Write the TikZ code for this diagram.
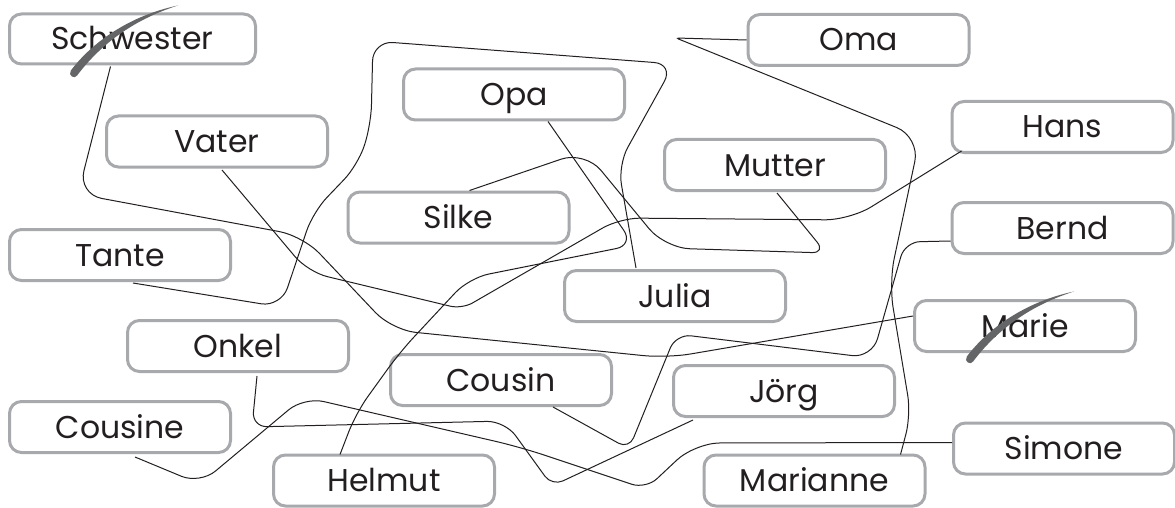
\documentclass[tikz,border=0pt]{standalone}
\usepackage{fontspec}
\setmainfont{Poppins}
\usetikzlibrary{calc}
\definecolor{boxgray}{HTML}{A7A9AC}
\definecolor{ink}{HTML}{231F20}
\definecolor{strikegray}{HTML}{646567}
\newcommand{\strikestroke}[2]{%
  \fill[strikegray, shift={(#1,#2)}] (70.8,70.6) .. controls (91.8,42.6) and (129.4,15.6) .. (178,5.5)
     .. controls (130.6,20.4) and (98.2,47.4) .. (77.2,75.4)
     .. controls (75,79.5) and (67.5,76) .. (70.8,70.6) -- cycle;}
\begin{document}
\begin{tikzpicture}[x=1pt,y=-1pt,
  namebox/.style={draw=boxgray, line width=3pt, rounded corners=12pt, fill=white,
    minimum width=221pt, minimum height=51pt, inner sep=0pt, text=ink,
    text height=22pt, text depth=0pt, font=\fontsize{31.5}{36}\selectfont},
  conn/.style={draw=ink, line width=1pt}]
\useasboundingbox (0,0) rectangle (1175,508);
\fill[white] (0,0) rectangle (1175,508);

\node[namebox, minimum width=246pt, minimum height=50pt] (schw) at (132.5,39) {Schwester};
\node[namebox] (oma) at (858.5,40) {Oma};
\node[namebox] (opa) at (514,94.5) {Opa};
\node[namebox] (vater) at (217,141.5) {Vater};
\node[namebox] (hans) at (1062.5,127) {Hans};
\node[namebox] (mutter) at (775,165) {Mutter};
\node[namebox] (silke) at (458.5,217.5) {Silke};
\node[namebox] (tante) at (120,255) {Tante};
\node[namebox] (bernd) at (1062.5,228) {Bernd};
\node[namebox] (julia) at (675,296) {Julia};
\node[namebox] (marie) at (1025,326) {Marie};
\node[namebox] (onkel) at (238,346) {Onkel};
\node[namebox] (cousin) at (501,380) {Cousin};
\node[namebox] (jorg) at (784,391) {Jörg};
\node[namebox] (cousine) at (120,427) {Cousine};
\node[namebox] (simone) at (1064,448.5) {Simone};
\node[namebox] (helmut) at (384,480.5) {Helmut};
\node[namebox] (marianne) at (814.5,480.5) {Marianne};

% Schwester -- Marie
\draw[conn, rounded corners=24pt] ($(schw.south)+(-22,1)$) -- (78,194) -- (303,236)
  -- (392,330) -- (667,358) -- ($(marie.west)+(0,-10)$);
% Vater -- Hans
\draw[conn] ($(vater.south)+(5,1.5)$) [rounded corners=20pt] -- (308,272)
  [rounded corners=12pt] -- (462,309) [rounded corners=20pt] -- (620,218)
  [rounded corners=25pt] -- (850,220) -- ($(hans.south west)+(11,-3)$);
% Oma -- Marianne
\draw[conn] (oma.west) [rounded corners=3pt] -- (676,38) [rounded corners=25pt] -- (920,137)
  -- (889,283) [rounded corners=20pt] -- (911,415) -- ($(marianne.north)+(86,1)$);
% Bernd -- Cousin
\draw[conn] ($(bernd.west)+(0,13)$) [rounded corners=15pt] -- (905,242)
  [rounded corners=20pt] -- (872,358) [rounded corners=15pt] -- (676,334)
  [rounded corners=12pt] -- (629,449) -- ($(cousin.south)+(52,0)$);
% Simone -- Cousine
\draw[conn] ($(simone.west)+(0,-6)$) [rounded corners=25pt] -- (695,443)
  [rounded corners=15pt] -- (646,489) [rounded corners=25pt] -- (520,447)
  [rounded corners=20pt] -- (304,397) -- (200,484) -- ($(cousine.south)+(15,3)$);
% Onkel -- Joerg
\draw[conn] ($(onkel.south)+(19,3)$) [rounded corners=15pt] -- (252,427)
  [rounded corners=18pt] -- (505,421) [rounded corners=12pt] -- (552,486)
  -- ($(jorg.south west)+(21,2)$);
% Opa -- Helmut
\draw[conn] ($(opa.south)+(34,0)$) [rounded corners=18pt] -- (634,245)
  [rounded corners=20pt] -- (469,278) -- (400,352) -- (356,413)
  -- ($(helmut.north)+(-44,1)$);
% Tante -- Julia
\draw[conn, rounded corners=20pt] ($(tante.south)+(13,1)$) -- (281,307) -- (313,212)
  -- (358,165) -- (371,125) -- (373,41) -- (674,64) -- (618,165)
  -- ($(julia.north)+(-39,-1)$);
% Silke -- Mutter
\draw[conn] ($(silke.north)+(11,0)$) [rounded corners=25pt] -- (585,151)
  -- (665,248) [rounded corners=14pt] -- (826,253) -- ($(mutter.south)+(2,1)$);

\strikestroke{0}{0}
\strikestroke{896}{286}
\end{tikzpicture}
\end{document}
